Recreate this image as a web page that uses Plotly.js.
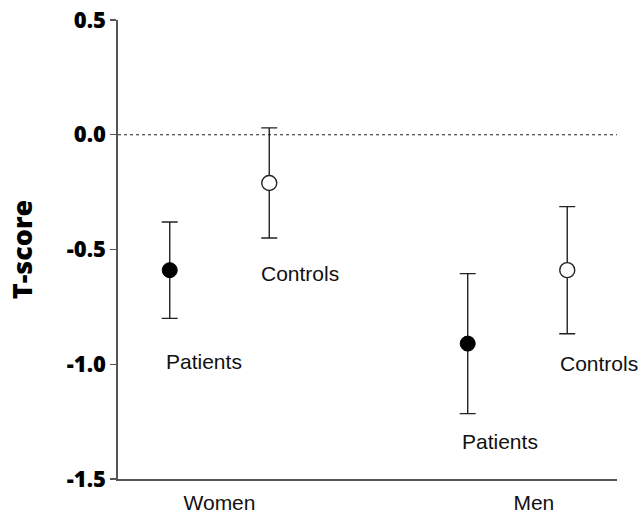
<!DOCTYPE html>
<html>
<head>
<meta charset="utf-8">
<script src="https://cdn.plot.ly/plotly-3.0.1.min.js"></script>
<style>html,body{margin:0;padding:0;background:#fff;}#chart{width:642px;height:513px;}</style>
</head>
<body>
<div id="chart"></div>
<script>
// Data
var groups = ['Women', 'Men'];
var groupPos = [1, 2];
var patientMean = [-0.59, -0.91];
var patientErr = [0.21, 0.305];
var controlMean = [-0.21, -0.59];
var controlErr = [0.24, 0.277];
var seriesLabels = ['Patients', 'Controls'];
var yTickVals = [-1.5, -1.0, -0.5, 0.0, 0.5];
var yTickText = ['-1.5', '-1.0', '-0.5', '0.0', '0.5'];

var off = 0.167;
var px = groupPos.map(function (g) { return g - off; });
var cx = groupPos.map(function (g) { return g + off; });

var errStyle = { type: 'data', symmetric: true, color: '#222', thickness: 1.4, width: 8 };

var traces = [
  {
    x: px, y: patientMean, type: 'scatter', mode: 'markers', name: seriesLabels[0],
    marker: { color: '#000', size: 15, symbol: 'circle', line: { color: '#000', width: 1 } },
    error_y: Object.assign({ array: patientErr }, errStyle)
  },
  {
    x: cx, y: controlMean, type: 'scatter', mode: 'markers', name: seriesLabels[1],
    marker: { color: '#fff', size: 15, symbol: 'circle', line: { color: '#222', width: 1.4 } },
    error_y: Object.assign({ array: controlErr }, errStyle)
  }
];

var labelFont = { family: 'Liberation Sans, Arial, sans-serif', size: 21, color: '#111' };
var annotations = [
  { x: 0.948, y: -0.986, text: seriesLabels[0] },
  { x: 1.270, y: -0.603, text: seriesLabels[1] },
  { x: 1.941, y: -1.338, text: seriesLabels[0] },
  { x: 2.273, y: -0.995, text: seriesLabels[1] }
].map(function (a) {
  return { x: a.x, y: a.y, xref: 'x', yref: 'y', text: a.text, showarrow: false, font: labelFont, xanchor: 'center', yanchor: 'middle' };
});

var layout = {
  width: 642, height: 513,
  margin: { l: 118, r: 25, t: 20, b: 34 },
  paper_bgcolor: '#fff', plot_bgcolor: '#fff',
  showlegend: false,
  xaxis: {
    range: [0.6594, 2.334],
    tickvals: [1, 2.055], ticktext: groups,
    showgrid: false, zeroline: false,
    showline: true, linecolor: '#555', linewidth: 1.6,
    ticks: '', ticklen: 0, ticklabelstandoff: 4,
    tickfont: { family: 'Liberation Sans, Arial, sans-serif', size: 21, color: '#111' },
    fixedrange: true
  },
  yaxis: {
    range: [-1.5, 0.5],
    tickvals: yTickVals, ticktext: yTickText,
    showgrid: false, zeroline: false,
    showline: true, linecolor: '#555', linewidth: 1.6,
    ticks: 'outside', ticklen: 6, tickcolor: '#555', tickwidth: 1.4,
    tickfont: { family: 'Open Sans, sans-serif', size: 22, color: '#000', weight: 800 },
    title: { text: 'T-score', font: { family: 'Open Sans, sans-serif', size: 27, color: '#000', weight: 800 }, standoff: 26 },
    fixedrange: true
  },
  shapes: [
    { type: 'line', xref: 'paper', x0: 0, x1: 1, yref: 'y', y0: 0, y1: 0,
      line: { color: '#222', width: 1, dash: 'dot' } }
  ],
  annotations: annotations
};

Plotly.newPlot('chart', traces, layout, { displayModeBar: false, staticPlot: true });
</script>
</body>
</html>
